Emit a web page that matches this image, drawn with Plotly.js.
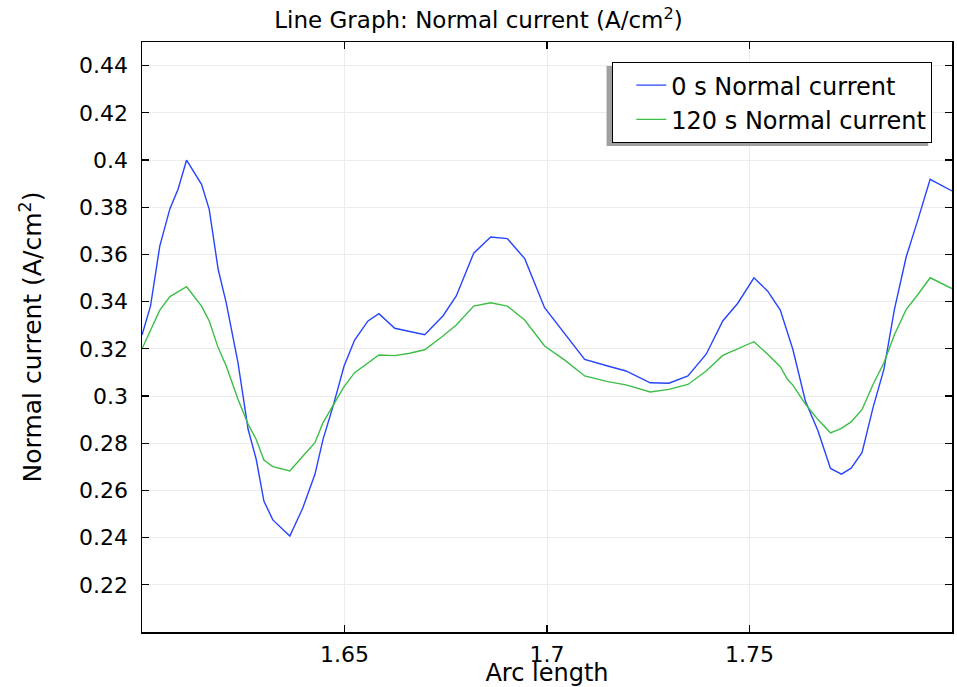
<!DOCTYPE html>
<html>
<head>
<meta charset="utf-8">
<script src="https://cdn.plot.ly/plotly-3.0.1.min.js"></script>
<style>html,body{margin:0;padding:0;background:#fff;}#chart{width:957px;height:687px;}</style>
</head>
<body>
<div id="chart"></div>
<script>
// Arc length (shared mesh points)
const arcLength = [1.6000,1.6021,1.6044,1.6069,1.6089,1.6110,1.6147,1.6166,1.6188,1.6208,
  1.6237,1.6262,1.6282,1.6301,1.6323,1.6365,1.6397,1.6427,1.6447,1.6472,
  1.6499,1.6525,1.6558,1.6585,1.6624,1.6661,1.6698,1.6743,1.6776,1.6819,
  1.6861,1.6902,1.6945,1.6994,1.7043,1.7093,1.7150,1.7195,1.7255,1.7301,
  1.7348,1.7393,1.7434,1.7471,1.7511,1.7545,1.7576,1.7594,1.7607,1.7638,
  1.7669,1.7700,1.7727,1.7751,1.7778,1.7805,1.7832,1.7858,1.7887,1.7915,
  1.7946,1.8000];
// Normal current at 0 s (A/cm^2)
const current0s = [0.3258,0.3381,0.3636,0.3794,0.3876,0.3999,0.3897,0.3791,0.3537,0.3395,
  0.3141,0.2859,0.2732,0.2555,0.2475,0.2407,0.2525,0.2668,0.2816,0.2958,
  0.3127,0.3237,0.3318,0.3349,0.3287,0.3273,0.3260,0.3339,0.3424,0.3605,
  0.3674,0.3667,0.3582,0.3374,0.3268,0.3155,0.3127,0.3106,0.3056,0.3054,
  0.3085,0.3177,0.3318,0.3393,0.3501,0.3444,0.3364,0.3268,0.3198,0.2979,
  0.2853,0.2693,0.2669,0.2694,0.2761,0.2951,0.3114,0.3368,0.3590,0.3742,
  0.3918,0.3869];
// Normal current at 120 s (A/cm^2)
const current120s = [0.3200,0.3275,0.3364,0.3421,0.3441,0.3463,0.3381,0.3318,0.3205,0.3127,
  0.2986,0.2880,0.2816,0.2729,0.2701,0.2682,0.2745,0.2802,0.2887,0.2958,
  0.3040,0.3099,0.3141,0.3174,0.3171,0.3181,0.3196,0.3254,0.3301,0.3381,
  0.3395,0.3381,0.3322,0.3212,0.3153,0.3085,0.3061,0.3047,0.3017,0.3028,
  0.3049,0.3106,0.3172,0.3201,0.3230,0.3177,0.3124,0.3070,0.3046,0.2966,
  0.2900,0.2844,0.2863,0.2890,0.2943,0.3049,0.3141,0.3261,0.3367,0.3428,
  0.3501,0.3455];
const xTicks = [1.65, 1.7, 1.75];
const yTicks = [0.22,0.24,0.26,0.28,0.30,0.32,0.34,0.36,0.38,0.40,0.42,0.44];
const seriesNames = ['0 s Normal current', '120 s Normal current'];

const font = 'DejaVu Sans, Arial, sans-serif';
const traces = [
  {x: arcLength, y: current0s, type: 'scatter', mode: 'lines', name: seriesNames[0],
   line: {color: 'rgb(38,68,255)', width: 1.4}},
  {x: arcLength, y: current120s, type: 'scatter', mode: 'lines', name: seriesNames[1],
   line: {color: 'rgb(60,190,70)', width: 1.4}}
];
const axisCommon = {
  showline: true, linecolor: '#000', linewidth: 1.5, mirror: 'allticks',
  ticks: 'inside', ticklen: 7, tickwidth: 1.2, tickcolor: '#000',
  showgrid: true, gridcolor: '#ececec', gridwidth: 1, zeroline: false,
  tickfont: {family: font, size: 22, color: '#000'}
};
const layout = {
  width: 957, height: 687,
  margin: {l: 142, r: 5, t: 42, b: 55},
  paper_bgcolor: '#fff', plot_bgcolor: '#fff',
  font: {family: font, color: '#000'},
  title: {text: 'Line Graph: Normal current (A/cm<sup>2</sup>)', font: {family: font, size: 23, color: '#000'},
          x: 0.5, xanchor: 'center', y: 0.982, yanchor: 'top'},
  xaxis: Object.assign({}, axisCommon, {
    range: [1.6, 1.8], tickvals: xTicks, ticktext: xTicks.map(String),
    ticklabelstandoff: 2,
    title: {text: 'Arc length', font: {family: font, size: 24, color: '#000'}, standoff: 3}
  }),
  yaxis: Object.assign({}, axisCommon, {
    range: [0.2, 0.45], tickvals: yTicks, ticktext: yTicks.map(v => String(+v.toFixed(2))),
    ticklabelstandoff: 8,
    title: {text: 'Normal current (A/cm<sup>2</sup>)', font: {family: font, size: 25, color: '#000'}, standoff: 30}
  }),
  showlegend: true,
  legend: {x: 0.9757, xanchor: 'right', y: 0.966, yanchor: 'top', indentation: 18,
           bgcolor: '#fff', bordercolor: '#000', borderwidth: 1,
           font: {family: font, size: 24, color: '#000'}, tracegroupgap: 0},
  shapes: [{type: 'rect', xref: 'paper', yref: 'paper', x0: 0.5735, x1: 0.9707, y0: 0.8237, y1: 0.9593,
            fillcolor: '#a0a0a0', line: {width: 0}, layer: 'above'}]
};
Plotly.newPlot('chart', traces, layout, {displayModeBar: false, staticPlot: true});
</script>
</body>
</html>
